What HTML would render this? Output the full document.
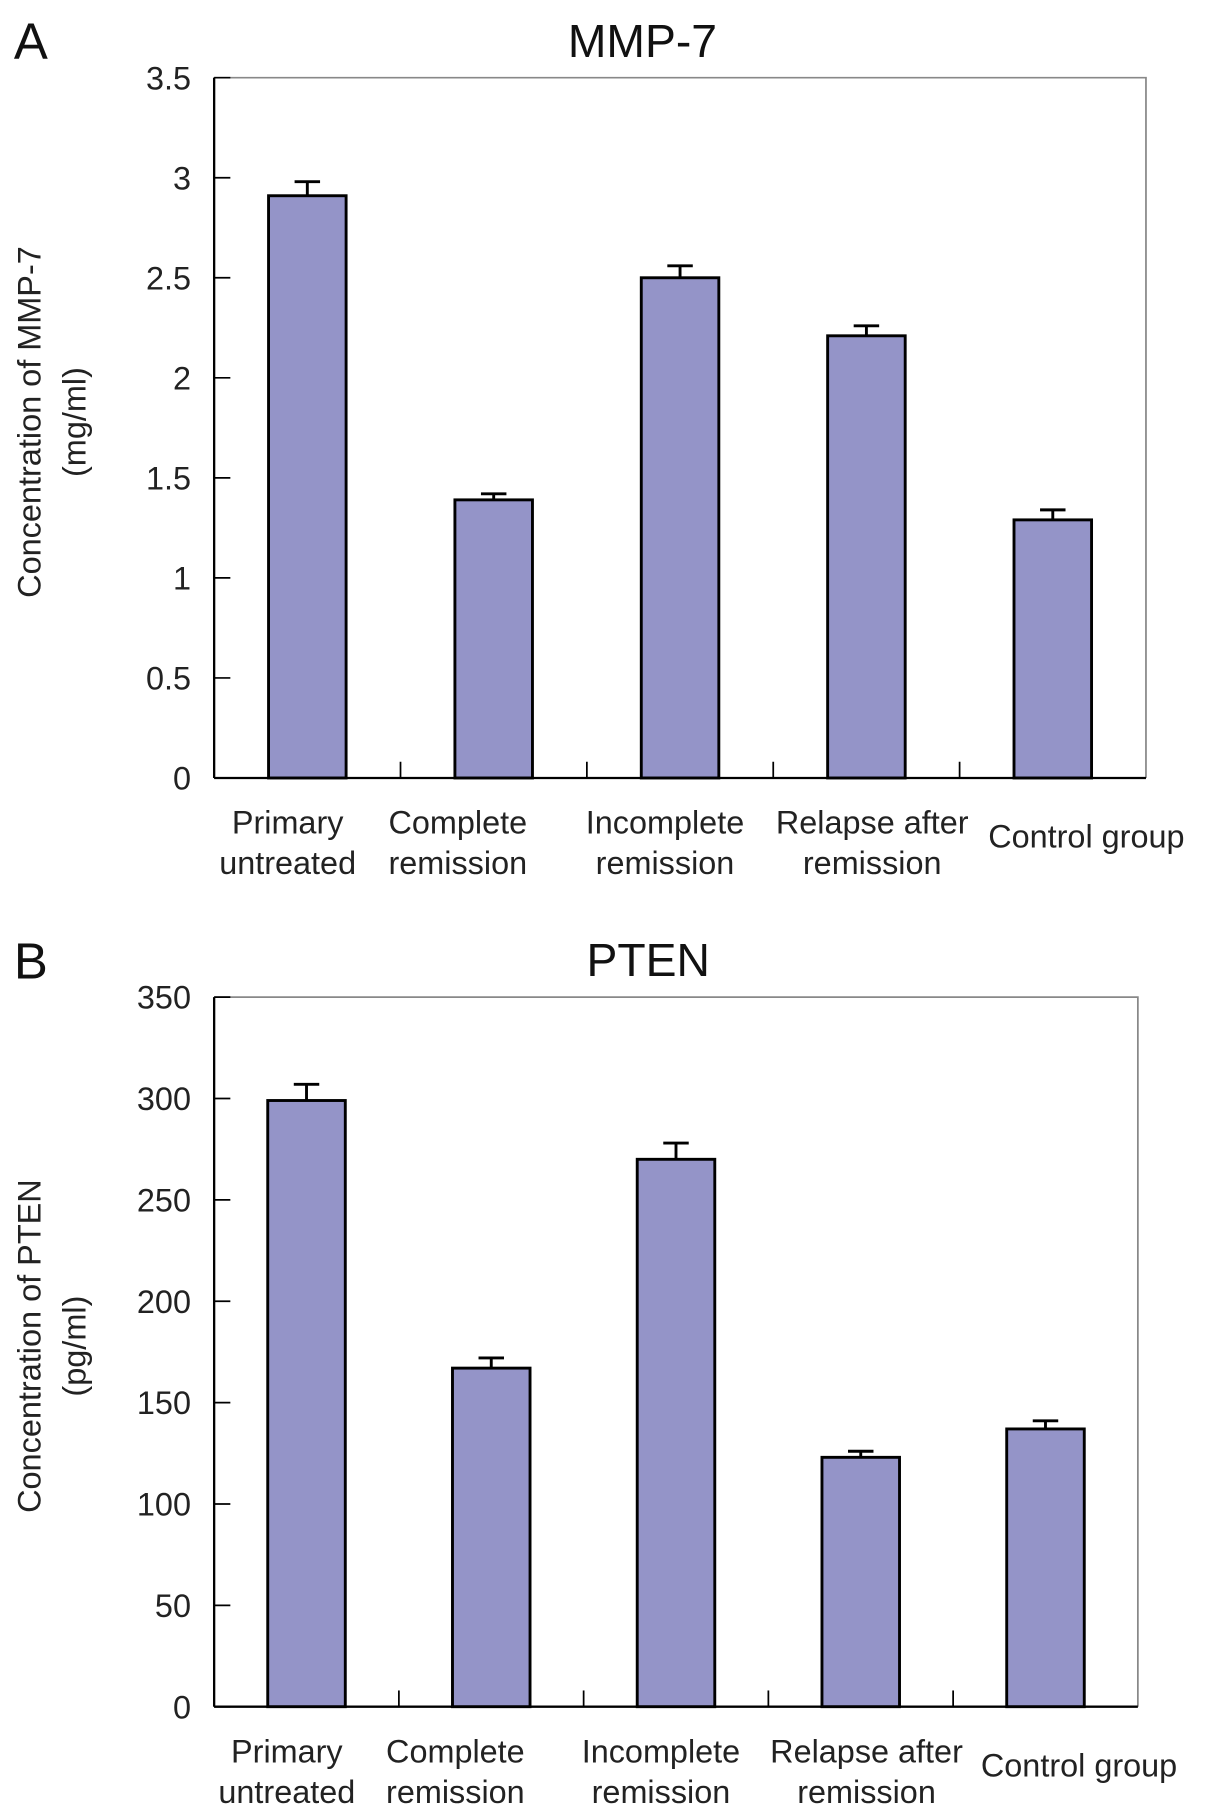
<!DOCTYPE html>
<html><head><meta charset="utf-8"><style>
html,body{margin:0;padding:0;background:#fff;}
svg{display:block;font-family:"Liberation Sans",Arial,sans-serif;}
</style></head><body>
<svg id="fig" width="1205" height="1818" viewBox="0 0 1041 1568" preserveAspectRatio="none"></svg>
<script>
const categories = ["Primary|untreated","Complete|remission","Incomplete|remission","Relapse after|remission","Control group"];
const mmpValues = [2.91, 1.39, 2.50, 2.21, 1.29];
const mmpErrors = [0.07, 0.03, 0.06, 0.05, 0.05];
const mmpTicks = ["0","0.5","1","1.5","2","2.5","3","3.5"];
const ptenValues = [299, 167, 270, 123, 137];
const ptenErrors = [8, 5, 8, 3, 4];
const ptenTicks = ["0","50","100","150","200","250","300","350"];

const NS = "http://www.w3.org/2000/svg";
const svg = document.getElementById('fig');
const labelShift = [-17, -31, -13, 5, 29];
function mk(tag, attrs, parent, text){
  const e = document.createElementNS(NS, tag);
  for (const k in attrs) e.setAttribute(k, attrs[k]);
  if (text !== undefined) e.textContent = text;
  (parent||svg).appendChild(e);
  return e;
}
function panel(cfg){
  const g = mk('g', {});
  
  
  const L=cfg.left, R=cfg.right, T=cfg.top, B=cfg.bottom;
  const tickVals = cfg.ticks.map(Number);
  const ymax = tickVals[tickVals.length-1];
  const y = v => B - (v/ymax)*(B-T);
  const n = categories.length;
  const cw = (R-L)/n;
  const x = i => L + cw*(i+0.5);
  const bw = 67;
  const fr = mk('path', {d:`M${L},${T} H${R} V${B}`, fill:'none', stroke:'#888', 'stroke-width':1.5}, g);
  
  
  const ya = mk('line', {x1:L,y1:T,x2:L,y2:B,stroke:'#000','stroke-width':2}, g);
  
  
  const xa = mk('line', {x1:L,y1:B,x2:R,y2:B,stroke:'#000','stroke-width':2}, g);
  
  
  cfg.ticks.forEach((t,i)=>{
    const yy = y(tickVals[i]);
    mk('line',{x1:L,y1:yy,x2:L+14,y2:yy,stroke:'#000','stroke-width':1.5},g);
    const tl = mk('text',{x:L-20,y:yy+10,'text-anchor':'end','font-size':28,fill:'#222'},g,t);
    
    
  });
  for(let i=1;i<n;i++){
    const xx = L+cw*i;
    mk('line',{x1:xx,y1:B,x2:xx,y2:B-14,stroke:'#000','stroke-width':1.5},g);
  }
  cfg.values.forEach((v,i)=>{
    const cx = x(i);
    const top = y(v), et = y(v+cfg.errors[i]);
    const eb = mk('path',{d:`M${cx},${top} V${et} M${cx-11},${et} H${cx+11}`,stroke:'#000','stroke-width':2.5,fill:'none'},g);
    
    
    const b = mk('rect',{x:cx-bw/2,y:top,width:bw,height:B-top,fill:'#9494c8',stroke:'#000','stroke-width':2.5},g);
    
    
    const parts = categories[i].split('|');
    const lx = cx + labelShift[i];
    if(parts.length===1){
      const t = mk('text',{x:lx,y:B+60,'text-anchor':'middle','font-size':28,fill:'#222'},g,parts[0]);
      
      
    } else {
      parts.forEach((p,k)=>{
        const t = mk('text',{x:lx,y:B+48+k*35,'text-anchor':'middle','font-size':28,fill:'#222'},g,p);
        
        
      });
    }
  });
  const ti = mk('text',{x:cfg.titleX,y:T-18,'text-anchor':'middle','font-size':40,fill:'#111'},g,cfg.title);
  
  
  const pl = mk('text',{x:12,y:T-16,'font-size':44,fill:'#111'},g,cfg.letter);
  
  
  const cy = (T+B)/2 - 5;
  const yt = mk('text',{transform:`translate(35,${cy}) rotate(-90)`,'text-anchor':'middle','font-size':28,fill:'#222'},g);
  
  
  mk('tspan',{x:0,y:0},yt,cfg.ylab1);
  mk('tspan',{x:0,y:39},yt,cfg.ylab2);
}
panel({id:'mmp7',left:185,right:990,top:67,bottom:671,ticks:mmpTicks,values:mmpValues,errors:mmpErrors,title:'MMP-7',titleX:555,letter:'A',ylab1:'Concentration of MMP-7',ylab2:'(mg/ml)'});
panel({id:'pten',left:185,right:983,top:860,bottom:1472,ticks:ptenTicks,values:ptenValues,errors:ptenErrors,title:'PTEN',titleX:560,letter:'B',ylab1:'Concentration of PTEN',ylab2:'(pg/ml)'});
</script>
</body></html>
